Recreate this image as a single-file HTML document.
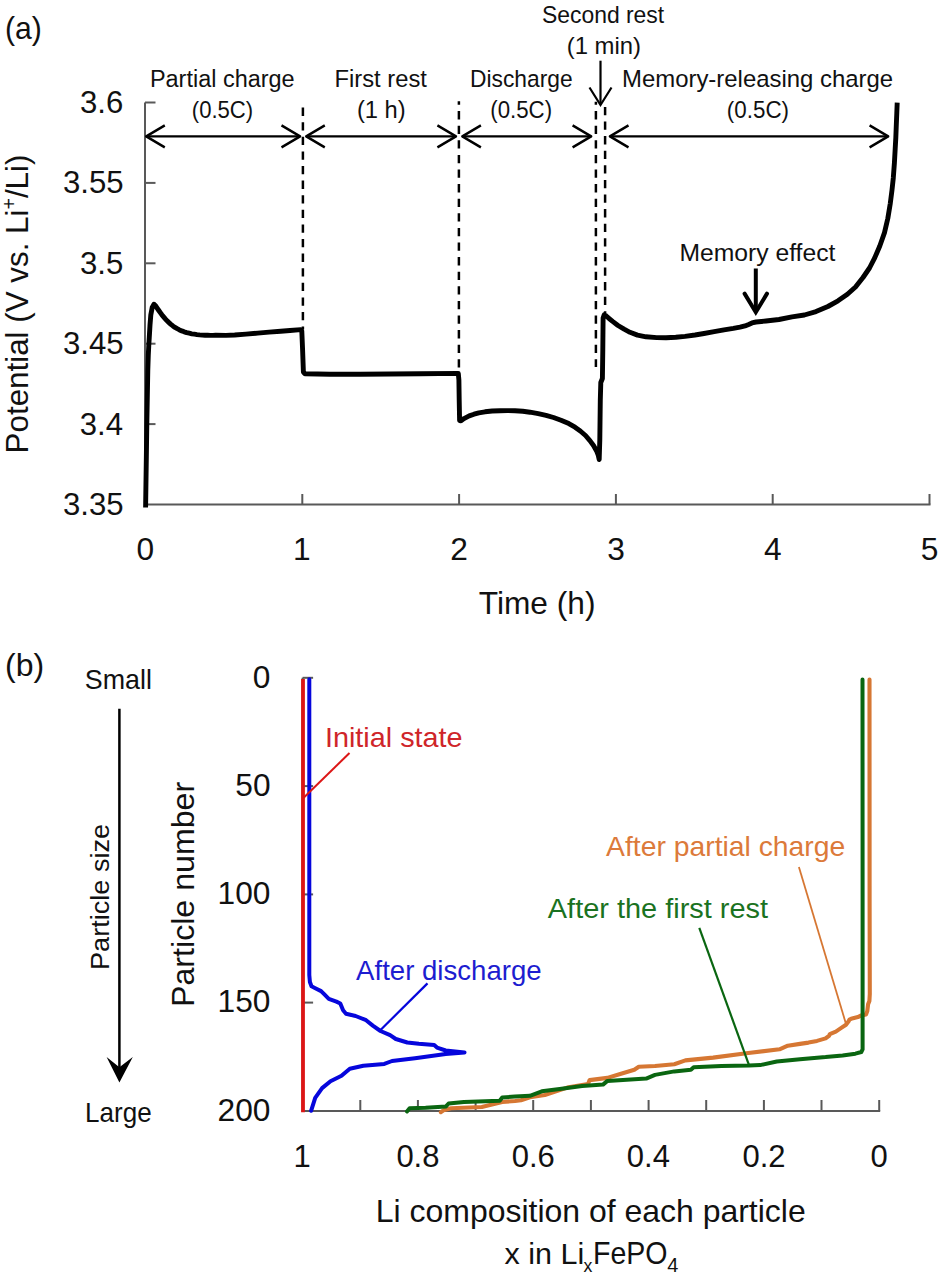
<!DOCTYPE html>
<html><head><meta charset="utf-8"><title>Figure</title>
<style>html,body{margin:0;padding:0;background:#fff;}svg{display:block;}text{font-family:"Liberation Sans",sans-serif;}</style>
</head><body>
<svg width="939" height="1280" viewBox="0 0 939 1280" font-family="Liberation Sans, sans-serif">
<rect width="939" height="1280" fill="#fff"/>
<line x1="145.0" y1="102.5" x2="145.0" y2="505.5" stroke="#595959" stroke-width="2"/>
<line x1="145.0" y1="102.5" x2="155.5" y2="102.5" stroke="#595959" stroke-width="2"/>
<line x1="145.0" y1="182.9" x2="155.5" y2="182.9" stroke="#595959" stroke-width="2"/>
<line x1="145.0" y1="263.3" x2="155.5" y2="263.3" stroke="#595959" stroke-width="2"/>
<line x1="145.0" y1="343.7" x2="155.5" y2="343.7" stroke="#595959" stroke-width="2"/>
<line x1="145.0" y1="424.1" x2="155.5" y2="424.1" stroke="#595959" stroke-width="2"/>
<line x1="144.0" y1="504.5" x2="930.5" y2="504.5" stroke="#595959" stroke-width="2"/>
<line x1="302.3" y1="494.0" x2="302.3" y2="504.5" stroke="#595959" stroke-width="2"/>
<line x1="459.1" y1="494.0" x2="459.1" y2="504.5" stroke="#595959" stroke-width="2"/>
<line x1="615.9" y1="494.0" x2="615.9" y2="504.5" stroke="#595959" stroke-width="2"/>
<line x1="772.7" y1="494.0" x2="772.7" y2="504.5" stroke="#595959" stroke-width="2"/>
<line x1="929.5" y1="494.0" x2="929.5" y2="504.5" stroke="#595959" stroke-width="2"/>
<line x1="302.9" y1="107.6" x2="302.9" y2="329.5" stroke="#000" stroke-width="2.5" stroke-dasharray="8.3 6.3" stroke-dashoffset="0.00"/>
<line x1="458.9" y1="101.2" x2="458.9" y2="373.0" stroke="#000" stroke-width="2.5" stroke-dasharray="8.3 6.3" stroke-dashoffset="4.70"/>
<line x1="595.9" y1="101.8" x2="595.9" y2="367.0" stroke="#000" stroke-width="2.5" stroke-dasharray="8.3 6.3" stroke-dashoffset="5.30"/>
<line x1="605.1" y1="106.9" x2="605.1" y2="313.0" stroke="#000" stroke-width="2.5" stroke-dasharray="8.3 6.3" stroke-dashoffset="0.00"/>
<line x1="146.2" y1="136.4" x2="300.1" y2="136.4" stroke="#000" stroke-width="2.4"/><polyline points="164.8,125.4 146.2,136.4 164.8,147.4" fill="none" stroke="#000" stroke-width="2.4" stroke-linejoin="round"/><polyline points="281.5,125.4 300.1,136.4 281.5,147.4" fill="none" stroke="#000" stroke-width="2.4" stroke-linejoin="round"/>
<line x1="306.2" y1="136.4" x2="456.0" y2="136.4" stroke="#000" stroke-width="2.4"/><polyline points="324.8,125.4 306.2,136.4 324.8,147.4" fill="none" stroke="#000" stroke-width="2.4" stroke-linejoin="round"/><polyline points="437.4,125.4 456.0,136.4 437.4,147.4" fill="none" stroke="#000" stroke-width="2.4" stroke-linejoin="round"/>
<line x1="462.3" y1="136.4" x2="591.2" y2="136.4" stroke="#000" stroke-width="2.4"/><polyline points="480.9,125.4 462.3,136.4 480.9,147.4" fill="none" stroke="#000" stroke-width="2.4" stroke-linejoin="round"/><polyline points="572.6,125.4 591.2,136.4 572.6,147.4" fill="none" stroke="#000" stroke-width="2.4" stroke-linejoin="round"/>
<line x1="609.9" y1="136.4" x2="888.2" y2="136.4" stroke="#000" stroke-width="2.4"/><polyline points="628.5,125.4 609.9,136.4 628.5,147.4" fill="none" stroke="#000" stroke-width="2.4" stroke-linejoin="round"/><polyline points="869.6,125.4 888.2,136.4 869.6,147.4" fill="none" stroke="#000" stroke-width="2.4" stroke-linejoin="round"/>
<line x1="600.5" y1="60.7" x2="600.5" y2="104.5" stroke="#000" stroke-width="2.2"/>
<polyline points="589.5,87.5 600.5,105.0 611.5,87.5" fill="none" stroke="#000" stroke-width="2.2"/>
<line x1="755.8" y1="268.5" x2="755.8" y2="311.0" stroke="#000" stroke-width="4"/>
<polyline points="744.6,293.6 755.8,312.2 767.0,293.6" fill="none" stroke="#000" stroke-width="4" stroke-linecap="round" stroke-linejoin="miter"/>
<polyline points="145.6,507.5 146.3,460.0 146.8,424.5 147.8,370.0 148.3,355.0 148.8,345.0 149.3,337.0 150.0,325.0 150.8,315.0 152.2,307.5 154.0,304.2 155.8,306.0 157.3,308.3 158.8,310.5 160.3,312.6 161.9,314.8 163.6,316.8 165.3,318.8 167.1,320.8 169.0,322.6 170.9,324.3 172.9,325.9 175.0,327.4 177.2,328.7 179.5,329.9 181.8,330.9 184.2,331.8 186.7,332.6 189.2,333.2 191.8,333.8 194.4,334.2 197.0,334.6 199.6,334.9 202.3,335.1 205.0,335.2 207.7,335.3 210.3,335.4 212.9,335.4 215.6,335.3 226.0,335.4 234.7,335.0 246.0,334.1 257.7,333.1 269.0,332.1 280.7,331.2 290.0,330.5 300.8,329.6 301.8,331.0 302.6,350.0 303.4,372.0 305.0,373.8 330.0,374.2 360.0,374.3 390.0,374.0 420.0,373.7 458.3,373.4 458.9,380.0 459.2,400.0 459.6,420.5 461.0,420.8 464.0,418.6 469.2,415.9 474.0,414.2 478.8,412.8 485.0,411.8 492.2,411.0 500.0,410.7 507.5,410.6 515.0,410.8 522.8,411.3 530.0,412.2 538.2,413.6 546.0,415.3 553.5,417.5 561.0,420.2 568.8,423.6 575.0,427.2 580.3,431.0 585.5,435.5 589.9,440.6 593.5,445.5 596.6,451.0 598.3,455.5 599.2,459.5 599.8,440.0 600.3,400.0 600.8,382.5 602.4,378.5 602.8,350.0 603.1,318.0 604.2,314.8 606.3,316.0 609.5,318.8 612.6,321.4 618.0,325.5 624.1,329.2 630.0,332.3 637.5,335.1 646.0,336.8 656.7,337.6 666.0,337.7 675.8,337.3 685.0,336.4 695.0,335.0 704.0,333.5 714.2,331.7 724.0,329.8 733.3,328.4 740.0,327.2 745.0,325.9 748.7,324.4 752.0,322.9 756.0,322.0 766.0,321.0 779.0,319.5 792.0,316.8 804.4,315.0 816.0,311.6 827.9,306.5 838.0,300.8 847.4,294.3 855.5,287.0 863.0,277.5 869.5,268.0 874.7,257.9 879.8,246.0 884.5,232.6 887.8,218.5 890.3,203.3 892.0,190.0 893.3,177.9 894.4,163.0 895.2,148.6 895.8,138.0 896.3,125.0 896.8,113.0 897.2,102.7" fill="none" stroke="#000" stroke-width="4.9" stroke-linejoin="round" stroke-linecap="butt"/>
<line x1="302.6" y1="677.8" x2="302.6" y2="1110.9" stroke="#595959" stroke-width="2"/>
<line x1="302.6" y1="677.8" x2="313.1" y2="677.8" stroke="#595959" stroke-width="2"/>
<line x1="302.6" y1="786.1" x2="313.1" y2="786.1" stroke="#595959" stroke-width="2"/>
<line x1="302.6" y1="894.4" x2="313.1" y2="894.4" stroke="#595959" stroke-width="2"/>
<line x1="302.6" y1="1002.6" x2="313.1" y2="1002.6" stroke="#595959" stroke-width="2"/>
<line x1="301.6" y1="1110.9" x2="880.2" y2="1110.9" stroke="#595959" stroke-width="2"/>
<line x1="360.3" y1="1100.0" x2="360.3" y2="1110.9" stroke="#595959" stroke-width="2"/>
<line x1="417.9" y1="1100.0" x2="417.9" y2="1110.9" stroke="#595959" stroke-width="2"/>
<line x1="475.6" y1="1100.0" x2="475.6" y2="1110.9" stroke="#595959" stroke-width="2"/>
<line x1="533.2" y1="1100.0" x2="533.2" y2="1110.9" stroke="#595959" stroke-width="2"/>
<line x1="590.9" y1="1100.0" x2="590.9" y2="1110.9" stroke="#595959" stroke-width="2"/>
<line x1="648.6" y1="1100.0" x2="648.6" y2="1110.9" stroke="#595959" stroke-width="2"/>
<line x1="706.2" y1="1100.0" x2="706.2" y2="1110.9" stroke="#595959" stroke-width="2"/>
<line x1="763.9" y1="1100.0" x2="763.9" y2="1110.9" stroke="#595959" stroke-width="2"/>
<line x1="821.5" y1="1100.0" x2="821.5" y2="1110.9" stroke="#595959" stroke-width="2"/>
<line x1="879.2" y1="1100.0" x2="879.2" y2="1110.9" stroke="#595959" stroke-width="2"/>
<polyline points="869.5,679.5 869.6,900.0 869.8,994.0 869.4,1000.9 868.1,1004.3 867.3,1011.1 866.0,1014.5 861.3,1015.4 857.9,1017.1 851.1,1018.8 849.4,1019.6 848.6,1021.3 846.0,1024.7 840.9,1028.1 835.8,1031.6 829.8,1034.1 829.0,1035.8 825.6,1038.4 817.0,1040.9 808.5,1042.6 800.0,1043.9 787.8,1045.7 779.5,1049.3 746.3,1053.2 713.1,1057.6 685.4,1060.4 674.3,1064.2 655.0,1066.0 638.8,1066.7 634.3,1069.7 619.4,1074.2 607.4,1077.9 589.6,1080.1 588.1,1083.9 567.2,1087.6 544.8,1095.0 529.9,1097.3 521.0,1100.3 515.0,1101.0 502.2,1102.0 481.8,1107.0 451.1,1108.3 443.5,1110.3 440.9,1112.2" fill="none" stroke="#d67733" stroke-width="4.1" stroke-linejoin="round" stroke-linecap="round"/>
<polyline points="862.5,679.5 862.6,900.0 862.6,1049.4 861.3,1052.0 855.4,1053.7 842.6,1055.4 825.6,1057.1 808.5,1058.4 800.0,1059.2 776.8,1061.5 760.1,1065.1 749.1,1065.6 721.4,1065.9 693.7,1067.3 690.9,1069.8 674.3,1071.4 655.0,1074.9 646.2,1078.6 607.4,1080.9 603.0,1084.6 582.1,1086.1 559.7,1089.1 541.8,1091.3 529.9,1095.8 515.0,1096.5 502.2,1097.5 499.7,1100.7 463.9,1102.0 448.6,1103.5 446.0,1106.4 425.6,1107.7 409.6,1108.3 407.0,1111.5" fill="none" stroke="#0a6611" stroke-width="4.0" stroke-linejoin="round" stroke-linecap="round"/>
<line x1="303.0" y1="679.0" x2="303.0" y2="1112.3" stroke="#dc1616" stroke-width="3.8"/>
<polyline points="309.3,679.3 309.3,975.0 309.9,982.0 311.5,986.3 315.3,988.2 321.1,991.1 324.9,994.9 328.8,998.8 336.4,1001.6 340.3,1003.5 343.1,1010.3 346.0,1013.7 355.6,1016.0 366.1,1020.2 372.8,1025.6 380.5,1031.0 390.1,1035.2 395.8,1039.0 407.3,1042.5 418.8,1043.8 434.2,1045.1 437.0,1047.6 445.7,1050.5 464.5,1052.5 445.7,1054.0 415.0,1058.2 392.0,1061.0 384.3,1063.9 363.3,1065.8 349.8,1068.7 341.5,1075.7 330.5,1081.2 322.1,1088.1 315.2,1097.8 311.1,1110.8" fill="none" stroke="#0606dc" stroke-width="4.0" stroke-linejoin="round" stroke-linecap="round"/>
<line x1="349.5" y1="753.0" x2="303.4" y2="798.0" stroke="#dc1616" stroke-width="2.0"/>
<line x1="427.5" y1="983.4" x2="380.5" y2="1030.0" stroke="#0606dc" stroke-width="2.2"/>
<line x1="798.9" y1="867.1" x2="846.0" y2="1023.9" stroke="#d67733" stroke-width="1.8"/>
<line x1="699.3" y1="927.9" x2="749.1" y2="1065.3" stroke="#0a6611" stroke-width="2.2"/>
<line x1="119.4" y1="708.8" x2="119.4" y2="1068.0" stroke="#000" stroke-width="2.5"/>
<path d="M119.4,1082.6 L106.6,1057.1 L119.4,1067.3 L132.8,1057.1 Z" fill="#000"/>
<text transform="translate(4.99,38.94) scale(0.3018,0.3170)" font-size="100" fill="#111">(a)</text>
<text transform="translate(28.06,453.41) rotate(-90) scale(0.3136,0.3160)" font-size="100" fill="#111">Potential (V vs. Li<tspan font-size="62" baseline-shift="38">+</tspan>/Li)</text>
<text transform="translate(478.77,614.23) scale(0.3169,0.3128)" font-size="100" fill="#111">Time (h)</text>
<text transform="translate(149.92,87.10) scale(0.2347,0.2411)" font-size="100" fill="#111">Partial charge</text>
<text transform="translate(191.77,117.74) scale(0.2211,0.2362)" font-size="100" fill="#111">(0.5C)</text>
<text transform="translate(334.50,87.10) scale(0.2376,0.2370)" font-size="100" fill="#111">First rest</text>
<text transform="translate(356.88,117.74) scale(0.2373,0.2362)" font-size="100" fill="#111">(1 h)</text>
<text transform="translate(469.98,87.10) scale(0.2281,0.2411)" font-size="100" fill="#111">Discharge</text>
<text transform="translate(490.26,117.74) scale(0.2226,0.2362)" font-size="100" fill="#111">(0.5C)</text>
<text transform="translate(541.95,22.80) scale(0.2292,0.2370)" font-size="100" fill="#111">Second rest</text>
<text transform="translate(566.67,53.75) scale(0.2391,0.2404)" font-size="100" fill="#111">(1 min)</text>
<text transform="translate(621.99,86.90) scale(0.2392,0.2384)" font-size="100" fill="#111">Memory-releasing charge</text>
<text transform="translate(726.86,117.74) scale(0.2237,0.2362)" font-size="100" fill="#111">(0.5C)</text>
<text transform="translate(679.42,260.80) scale(0.2470,0.2370)" font-size="100" fill="#111">Memory effect</text>
<text transform="translate(5.08,676.30) scale(0.3200,0.3191)" font-size="100" fill="#111">(b)</text>
<text transform="translate(84.76,689.40) scale(0.2685,0.2767)" font-size="100" fill="#111">Small</text>
<text transform="translate(85.12,1122.40) scale(0.2605,0.2739)" font-size="100" fill="#111">Large</text>
<text transform="translate(109.40,969.97) rotate(-90) scale(0.2710,0.2644)" font-size="100" fill="#111">Particle size</text>
<text transform="translate(194.40,1006.97) rotate(-90) scale(0.3216,0.3192)" font-size="100" fill="#111">Particle number</text>
<text transform="translate(375.74,1221.90) scale(0.3197,0.3192)" font-size="100" fill="#111">Li composition of each particle</text>
<text transform="translate(504.49,1264.10) scale(0.3051,0.3041)" font-size="100" fill="#111">x in Li</text>
<text transform="translate(583.42,1272.20) scale(0.1771,0.1906)" font-size="100" fill="#111">x</text>
<text transform="translate(593.02,1264.19) scale(0.2855,0.3113)" font-size="100" fill="#111">FePO</text>
<text transform="translate(667.30,1272.40) scale(0.2000,0.2029)" font-size="100" fill="#111">4</text>
<text transform="translate(324.91,747.30) scale(0.2882,0.2781)" font-size="100" fill="#cf2529">Initial state</text>
<text transform="translate(356.10,979.80) scale(0.2760,0.2753)" font-size="100" fill="#1d1dd0">After discharge</text>
<text transform="translate(606.10,856.00) scale(0.2831,0.2767)" font-size="100" fill="#dc7a3a">After partial charge</text>
<text transform="translate(547.80,918.10) scale(0.2895,0.2712)" font-size="100" fill="#1a7221">After the first rest</text>
<text transform="translate(80.05,112.90) scale(0.3115,0.3050)" font-size="100" fill="#111">3.6</text>
<text transform="translate(62.91,193.30) scale(0.3115,0.3050)" font-size="100" fill="#111">3.55</text>
<text transform="translate(80.05,273.70) scale(0.3115,0.3050)" font-size="100" fill="#111">3.5</text>
<text transform="translate(62.91,354.10) scale(0.3115,0.3050)" font-size="100" fill="#111">3.45</text>
<text transform="translate(79.74,434.50) scale(0.3115,0.3050)" font-size="100" fill="#111">3.4</text>
<text transform="translate(62.91,514.90) scale(0.3115,0.3050)" font-size="100" fill="#111">3.35</text>
<text transform="translate(136.62,559.60) scale(0.3170,0.3170)" font-size="100" fill="#111">0</text>
<text transform="translate(292.95,559.60) scale(0.3170,0.3170)" font-size="100" fill="#111">1</text>
<text transform="translate(450.22,559.60) scale(0.3170,0.3170)" font-size="100" fill="#111">2</text>
<text transform="translate(607.18,559.60) scale(0.3170,0.3170)" font-size="100" fill="#111">3</text>
<text transform="translate(763.98,559.60) scale(0.3170,0.3170)" font-size="100" fill="#111">4</text>
<text transform="translate(920.78,559.60) scale(0.3170,0.3170)" font-size="100" fill="#111">5</text>
<text transform="translate(252.72,687.50) scale(0.3170,0.3170)" font-size="100" fill="#111">0</text>
<text transform="translate(235.28,795.78) scale(0.3170,0.3170)" font-size="100" fill="#111">50</text>
<text transform="translate(217.53,904.05) scale(0.3170,0.3170)" font-size="100" fill="#111">100</text>
<text transform="translate(217.53,1012.33) scale(0.3170,0.3170)" font-size="100" fill="#111">150</text>
<text transform="translate(217.53,1120.60) scale(0.3170,0.3170)" font-size="100" fill="#111">200</text>
<text transform="translate(293.46,1166.50) scale(0.3100,0.3100)" font-size="100" fill="#111">1</text>
<text transform="translate(396.38,1166.50) scale(0.3100,0.3100)" font-size="100" fill="#111">0.8</text>
<text transform="translate(511.69,1166.50) scale(0.3100,0.3100)" font-size="100" fill="#111">0.6</text>
<text transform="translate(626.86,1166.50) scale(0.3100,0.3100)" font-size="100" fill="#111">0.4</text>
<text transform="translate(742.49,1166.50) scale(0.3100,0.3100)" font-size="100" fill="#111">0.2</text>
<text transform="translate(870.52,1166.50) scale(0.3100,0.3100)" font-size="100" fill="#111">0</text>
</svg>
</body></html>
